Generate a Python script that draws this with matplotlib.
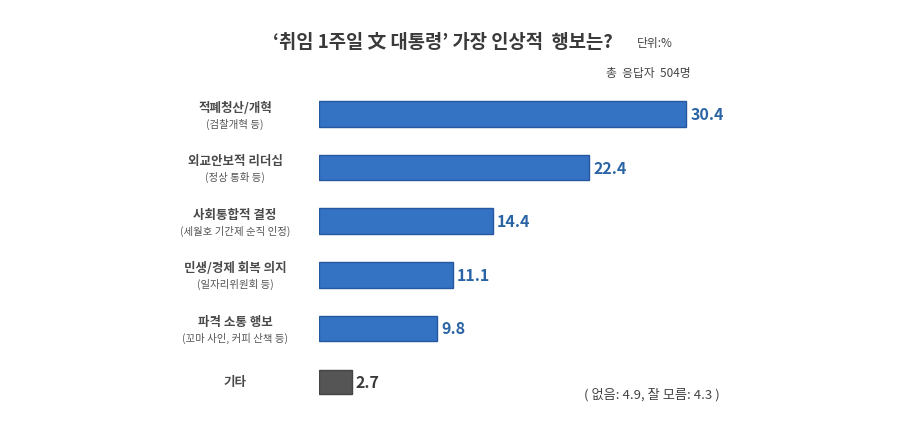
import matplotlib
matplotlib.use('Agg')
import matplotlib.pyplot as plt

plt.rcParams['font.family'] = ['Noto Sans CJK KR', 'DejaVu Sans']

labels = ['적폐청산/개혁', '외교안보적 리더십', '사회통합적 결정', '민생/경제 회복 의지', '파격 소통 행보', '기타']
sublabels = ['(검찰개혁 등)', '(정상 통화 등)', '(세월호 기간제 순직 인정)', '(일자리위원회 등)', '(꼬마 사인, 커피 산책 등)', '']
values = [30.4, 22.4, 14.4, 11.1, 9.8, 2.7]
value_text = ['30.4', '22.4', '14.4', '11.1', '9.8', '2.7']

fig = plt.figure(figsize=(9.05, 4.27), dpi=100)
fig.patch.set_facecolor('white')

# axes placed so x=0 sits where the bars start
ax = fig.add_axes([319 / 905, 1 - 409.8 / 427, 467 / 905, 321.6 / 427])
ax.set_xlim(0, 467 / 12.07)
ax.set_ylim(5.5, -0.5)
ax.axis('off')

pos = list(range(len(values)))
colors = ['#3473c4'] * 5 + ['#555555']
edges = ['#25589e'] * 5 + ['#444444']
heights = [0.48] * 5 + [0.45]
ax.barh(pos, values, height=heights, color=colors, edgecolor=edges, linewidth=1.0)

for i, v in enumerate(values):
    c = '#2a64a4' if i < 5 else '#3a3a3a'
    ax.text(v + 0.35, i, value_text[i], va='center', ha='left', fontsize=11.5, color=c, fontweight='bold')
    if sublabels[i]:
        ax.text(-6.95, i - 0.13, labels[i], ha='center', va='center', fontsize=9, color='#4a4a4a',
                fontweight='bold', clip_on=False)
        ax.text(-6.95, i + 0.17, sublabels[i], ha='center', va='center', fontsize=7.5, color='#555555', clip_on=False)
    else:
        ax.text(-6.95, i, labels[i], ha='center', va='center', fontsize=9, color='#4a4a4a',
                fontweight='bold', clip_on=False)

fig.text(443 / 905, 1 - 42 / 427, "‘취임 1주일 文 대통령’ 가장 인상적  행보는?", ha='center', va='center',
         fontsize=13.5, color='#3a3a3a', fontweight='bold')
fig.text(637 / 905, 1 - 44 / 427, '단위:%', ha='left', va='center', fontsize=8.5, color='#444444')
fig.text(691 / 905, 1 - 73 / 427, '총  응답자  504명', ha='right', va='center', fontsize=8.5, color='#444444')
fig.text(652 / 905, 1 - 395 / 427, '( 없음: 4.9, 잘 모름: 4.3 )', ha='center', va='center', fontsize=9.5, color='#444444')

fig.savefig('out.png', dpi=100, facecolor='white')
